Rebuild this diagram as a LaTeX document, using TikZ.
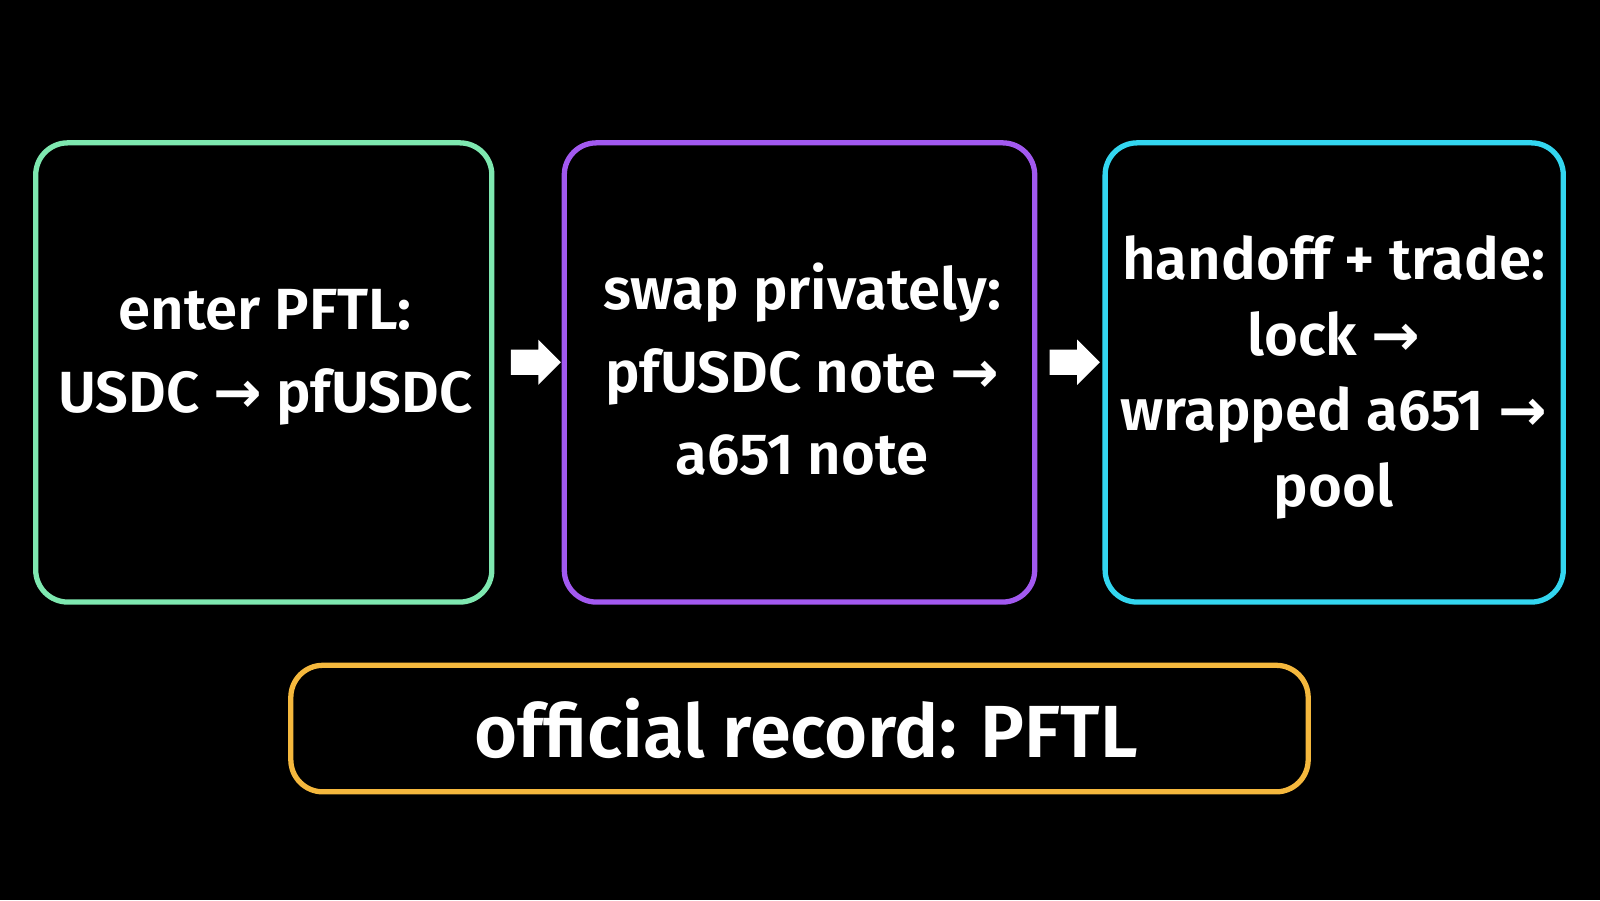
\documentclass[tikz,border=0pt]{standalone}
\usepackage{fontspec}
\setmainfont{Fira Sans}[BoldFont={Fira Sans SemiBold}]
\newfontfamily\arr{DejaVu Sans}
\usetikzlibrary{shapes.arrows}
\definecolor{cg}{HTML}{7EE8B0}
\definecolor{cp}{HTML}{A259F0}
\definecolor{cc}{HTML}{33D6F0}
\definecolor{co}{HTML}{F5B83D}
\newcommand{\ra}{{\arr\bfseries →}}
\begin{document}
\begin{tikzpicture}[x=0.0102cm,y=-0.0102cm,
  box/.style={line width=1.5pt,rounded corners=0.32cm,fill=black},
  txt/.style={text=white,font=\bfseries\fontsize{16.5}{23.5}\selectfont,align=center},
  barr/.style={single arrow,fill=white,draw=none,minimum height=0.5cm,inner sep=0.12cm,single arrow head extend=0.1cm}]
\fill[black] (0,0) rectangle (1568,882);
\draw[box,draw=cg] (35,140) rectangle (482,590);
\draw[box,draw=cp] (553,140) rectangle (1014,590);
\draw[box,draw=cc] (1083,140) rectangle (1532,590);
\draw[box,draw=co] (285,652) rectangle (1282,776);
\node[txt] (t1) at (260,350) {enter PFTL:\\USDC \ra{} pfUSDC};
\node[txt] (t2) at (786,362) {swap privately:\\pfUSDC note \ra\\a651 note};
\node[txt,font=\bfseries\fontsize{16.5}{21.5}\selectfont] (t3) at (1307,370) {handoff + trade:\\lock \ra\\wrapped a651 \ra\\pool};
\node[text=white,font=\bfseries\fontsize{21}{26}\selectfont] (t4) at (790,714) {official record: PFTL};
\node[barr] (a1) at (519,355) {};
\node[barr] (a2) at (1047,355) {};
\end{tikzpicture}
\end{document}
